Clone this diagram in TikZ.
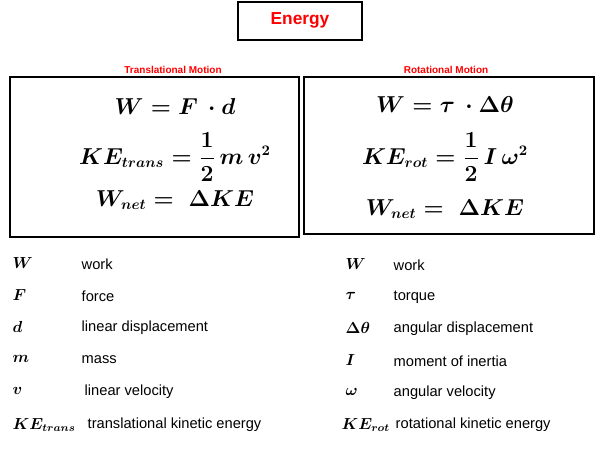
\documentclass[tikz,border=0pt]{standalone}
\usepackage{amsmath}
\usepackage{fontspec}
\setmainfont{Liberation Sans}
\begin{document}
\begin{tikzpicture}[x=0.75pt,y=-0.75pt,
  box/.style={draw,line width=0.9pt},
  eq/.style={font=\fontsize{16}{19}\selectfont\boldmath},
  sym/.style={anchor=west,font=\fontsize{12}{14}\selectfont\boldmath},
  desc/.style={anchor=west,font=\fontsize{11}{13}\selectfont},
  head/.style={text=red,font=\bfseries\fontsize{7.5}{9}\selectfont}]
\useasboundingbox (0,0) rectangle (600,450);
\draw[box] (238,2) rectangle (362,40);
\node[text=red,font=\bfseries\fontsize{13}{15}\selectfont] (title) at (300,20) {Energy};
\node[head] (tl) at (173,70) {Translational Motion};
\node[head] (tr) at (446,70) {Rotational Motion};
\draw[box] (10,77) rectangle (299,237);
\draw[box] (304,77) rectangle (594,234);
\node[eq] (e1) at (175,106) {$W=F\,\cdot d$};
\node[eq] (e2) at (175,157) {$KE_{trans}=\dfrac{1}{2}\,m\,v^2$};
\node[eq] (e3) at (175,200) {$W_{net}=\;\Delta KE$};
\node[eq] (e4) at (445,104) {$W=\tau\,\cdot\Delta\theta$};
\node[eq] (e5) at (445,157) {$KE_{rot}=\dfrac{1}{2}\,I\,\omega^2$};
\node[eq] (e6) at (445,209) {$W_{net}=\;\Delta KE$};
\node[sym] (s1) at (8,263) {$W$};
\node[sym] (s2) at (8,295) {$F$};
\node[sym] (s3) at (8,327) {$d$};
\node[sym] (s4) at (8,359) {$m$};
\node[sym] (s5) at (8,391) {$v$};
\node[sym] (s6) at (8,425) {$KE_{trans}$};
\node[desc] (d1) at (77,264) {work};
\node[desc] (d2) at (77,296) {force};
\node[desc] (d3) at (77,328) {linear displacement};
\node[desc] (d4) at (77,360) {mass};
\node[desc] (d5) at (80,392) {linear velocity};
\node[desc] (d6) at (83,425) {translational kinetic energy};
\node[sym] (r1) at (341,264) {$W$};
\node[sym] (r2) at (341,296) {$\tau$};
\node[sym] (r3) at (341,328) {$\Delta\theta$};
\node[sym] (r4) at (341,360) {$I$};
\node[sym] (r5) at (341,392) {$\omega$};
\node[sym] (r6) at (337,425) {$KE_{rot}$};
\node[desc] (q1) at (389,265) {work};
\node[desc] (q2) at (389,297) {torque};
\node[desc] (q3) at (389,329) {angular displacement};
\node[desc] (q4) at (389,361) {moment of inertia};
\node[desc] (q5) at (389,393) {angular velocity};
\node[desc] (q6) at (391,425) {rotational kinetic energy};
\end{tikzpicture}
\end{document}
